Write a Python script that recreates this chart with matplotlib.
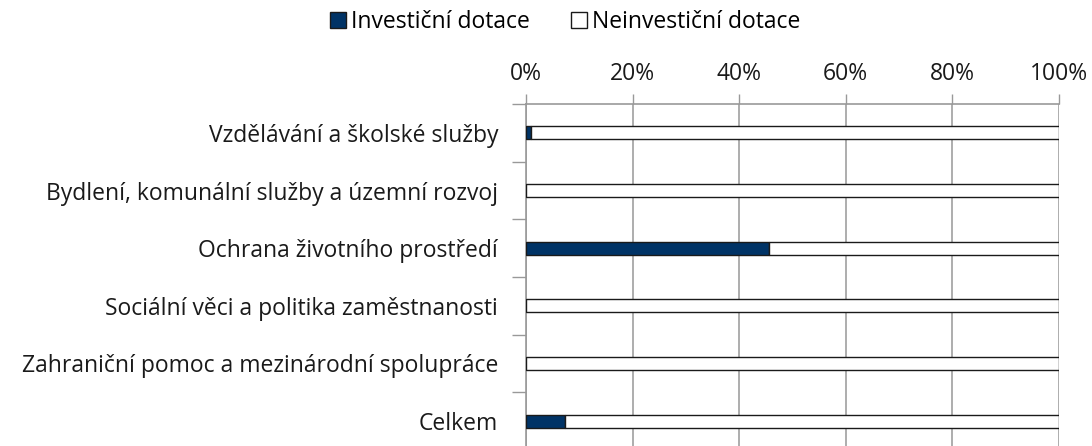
import numpy as np
import matplotlib.pyplot as plt
from matplotlib.patches import Patch

plt.rcParams['font.family'] = ['Open Sans', 'DejaVu Sans']

categories = ["Vzdělávání a školské služby",
              "Bydlení, komunální služby a územní rozvoj",
              "Ochrana životního prostředí",
              "Sociální věci a politika zaměstnanosti",
              "Zahraniční pomoc a mezinárodní spolupráce",
              "Celkem"]
invest = [0.009, 0.0, 0.456, 0.0, 0.0, 0.073]
noninvest = [1 - v for v in invest]
series_names = ["Investiční dotace", "Neinvestiční dotace"]
xticks = [0, 0.2, 0.4, 0.6, 0.8, 1.0]
xticklabels = ["0%", "20%", "40%", "60%", "80%", "100%"]

fs = 16.5

fig = plt.figure(figsize=(10.92, 4.46), dpi=100)
# axes: x 526..1059 px, y 104..~450 px (bottom slightly cut off)
ax = fig.add_axes([526 / 1092, (446 - 450) / 446, 533 / 1092, 346 / 446])

y = np.arange(len(categories))
h = 0.23
ax.barh(y, invest, height=h, color="#003366", edgecolor="#1a1a1a", linewidth=1, zorder=3)
ax.barh(y, noninvest, left=invest, height=h, color="white", edgecolor="#1a1a1a",
        linewidth=1, zorder=3)

ax.set_xlim(0, 1)
ax.set_ylim(len(categories) - 0.5, -0.5)
ax.xaxis.tick_top()
ax.set_xticks(xticks)
ax.set_xticklabels(xticklabels, fontsize=fs, color="#1a1a1a")
ax.tick_params(axis="x", length=7, width=1, color="#999999", pad=6)
ax.xaxis.grid(True, color="#a0a0a0", linewidth=1.2, zorder=0)

ax.set_yticks(y)
ax.set_yticklabels(categories, fontsize=fs, color="#1a1a1a")
ax.tick_params(axis="y", length=0, pad=20)
ax.set_yticks(np.arange(-0.5, len(categories)), minor=True)
ax.tick_params(axis="y", which="minor", length=10, width=1, color="#999999")

for s in ["right", "bottom"]:
    ax.spines[s].set_visible(False)
for s in ["left", "top"]:
    ax.spines[s].set_color("#999999")
    ax.spines[s].set_linewidth(1.2)

handles = [Patch(facecolor="#003366", edgecolor="#1a1a1a", linewidth=1),
           Patch(facecolor="white", edgecolor="#1a1a1a", linewidth=1)]
fig.legend(handles, series_names, loc="center", bbox_to_anchor=(565 / 1092, 1 - 22 / 446),
           ncol=2, frameon=False, fontsize=fs, handlelength=0.7, handleheight=0.7,
           handletextpad=0.2, columnspacing=1.8)

fig.savefig("out.png", dpi=100)
